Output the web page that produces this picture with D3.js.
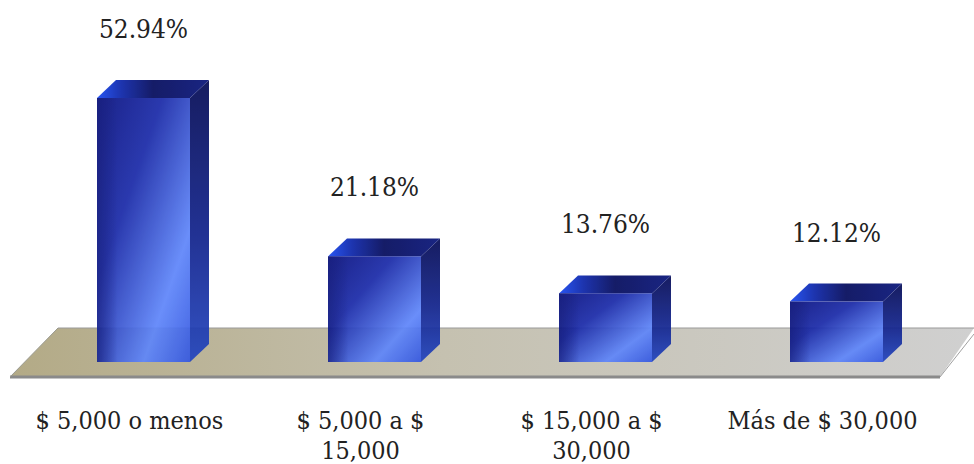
<!DOCTYPE html>
<html>
<head>
<meta charset="utf-8">
<script src="https://cdn.jsdelivr.net/npm/d3@7"></script>
<style>
  body { margin: 0; background: #fff; }
  svg text { font-family: "DejaVu Serif Condensed", "DejaVu Serif", serif; fill: #222; }
</style>
</head>
<body>
<div id="chart"></div>
<script>
const categories = ["$ 5,000 o menos", "$ 5,000 a $ 15,000", "$ 15,000 a $ 30,000", "Más de $ 30,000"];
const values = [52.94, 21.18, 13.76, 12.12];

const width = 974, height = 464;
const depthX = 19, depthY = -18;
const barW = 93;

const svg = d3.select("#chart").append("svg")
    .attr("width", width)
    .attr("height", height);

const defs = svg.append("defs");

// floor gradient, tan on the left to gray on the right
const floorGrad = defs.append("linearGradient").attr("id", "floorGrad")
    .attr("x1", "0%").attr("x2", "100%").attr("y1", "0%").attr("y2", "0%");
floorGrad.append("stop").attr("offset", "0%").attr("stop-color", "#b3aa86");
floorGrad.append("stop").attr("offset", "45%").attr("stop-color", "#c5c1b0");
floorGrad.append("stop").attr("offset", "100%").attr("stop-color", "#d0d0d0");

// front face
const frontGrad = defs.append("linearGradient").attr("id", "frontGrad")
    .attr("x1", "0%").attr("y1", "0%").attr("x2", "100%").attr("y2", "100%");
frontGrad.append("stop").attr("offset", "0%").attr("stop-color", "#0a1280");
frontGrad.append("stop").attr("offset", "35%").attr("stop-color", "#1a2aa8");
frontGrad.append("stop").attr("offset", "75%").attr("stop-color", "#5f86fa");
frontGrad.append("stop").attr("offset", "100%").attr("stop-color", "#3558e0");

const edgeGrad = defs.append("linearGradient").attr("id", "edgeGrad")
    .attr("x1", "0%").attr("x2", "100%").attr("y1", "0%").attr("y2", "0%");
edgeGrad.append("stop").attr("offset", "0%").attr("stop-color", "#060e70").attr("stop-opacity", 0.6);
edgeGrad.append("stop").attr("offset", "22%").attr("stop-color", "#060e70").attr("stop-opacity", 0);

// right side
const sideGrad = defs.append("linearGradient").attr("id", "sideGrad")
    .attr("x1", "0%").attr("y1", "0%").attr("x2", "0%").attr("y2", "100%");
sideGrad.append("stop").attr("offset", "0%").attr("stop-color", "#050c55");
sideGrad.append("stop").attr("offset", "55%").attr("stop-color", "#12238c");
sideGrad.append("stop").attr("offset", "100%").attr("stop-color", "#2446c0");

// top face
const topGrad = defs.append("linearGradient").attr("id", "topGrad")
    .attr("x1", "0%").attr("x2", "100%").attr("y1", "0%").attr("y2", "0%");
topGrad.append("stop").attr("offset", "0%").attr("stop-color", "#1848f0");
topGrad.append("stop").attr("offset", "22%").attr("stop-color", "#0c25a8");
topGrad.append("stop").attr("offset", "50%").attr("stop-color", "#040b5c");
topGrad.append("stop").attr("offset", "100%").attr("stop-color", "#08157a");

const x = d3.scalePoint()
    .domain(categories)
    .range([143.5, 836.5]);

const y = d3.scaleLinear()
    .domain([0, 60])
    .range([362, 362 - 299.2]);

// floor
const floorTop = 328, floorBottom = 377;
svg.append("path")
    .attr("d", "M58," + floorTop + " L974," + floorTop + " L940," + floorBottom + " L10," + floorBottom + " Z")
    .attr("fill", "url(#floorGrad)");
svg.append("line")
    .attr("x1", 58).attr("x2", 974).attr("y1", floorTop).attr("y2", floorTop)
    .attr("stroke", "#9a9a9a").attr("stroke-width", 1.2);
svg.append("line")
    .attr("x1", 10).attr("x2", 940).attr("y1", floorBottom).attr("y2", floorBottom)
    .attr("stroke", "#8a8a8a").attr("stroke-width", 3);
svg.append("line")
    .attr("x1", 58).attr("x2", 10).attr("y1", floorTop).attr("y2", floorBottom)
    .attr("stroke", "#9a9a90").attr("stroke-width", 1);
svg.append("line")
    .attr("x1", 974).attr("x2", 940).attr("y1", floorTop + 6).attr("y2", floorBottom)
    .attr("stroke", "#a0a0a0").attr("stroke-width", 1);

const data = categories.map(function(c, i){ return {cat: c, value: values[i]}; });

const bars = svg.selectAll(".bar")
    .data(data)
    .enter().append("g")
    .attr("class", "bar")
    .attr("opacity", 0.93);

function x0(d){ return x(d.cat) - barW / 2; }

bars.append("path")
    .attr("d", function(d){
        const l = x0(d), r = l + barW, t = y(d.value), b = y(0);
        return "M" + r + "," + t + " L" + (r + depthX) + "," + (t + depthY) +
            " L" + (r + depthX) + "," + (b + depthY) + " L" + r + "," + b + " Z";
    })
    .attr("fill", "url(#sideGrad)");

bars.append("path")
    .attr("d", function(d){
        const l = x0(d), r = l + barW, t = y(d.value);
        return "M" + l + "," + t + " L" + (l + depthX) + "," + (t + depthY) +
            " L" + (r + depthX) + "," + (t + depthY) + " L" + r + "," + t + " Z";
    })
    .attr("fill", "url(#topGrad)");

bars.append("rect")
    .attr("x", x0)
    .attr("y", function(d){ return y(d.value); })
    .attr("width", barW)
    .attr("height", function(d){ return y(0) - y(d.value); })
    .attr("fill", "url(#frontGrad)");

bars.append("rect")
    .attr("x", x0)
    .attr("y", function(d){ return y(d.value); })
    .attr("width", barW)
    .attr("height", function(d){ return y(0) - y(d.value); })
    .attr("fill", "url(#edgeGrad)");

// value labels
svg.selectAll(".val-label")
    .data(data)
    .enter().append("text")
    .attr("class", "val-label")
    .attr("x", function(d){ return x(d.cat); })
    .attr("y", function(d){ return y(d.value) + depthY - 42; })
    .attr("text-anchor", "middle")
    .attr("font-size", 26)
    .text(function(d){ return d.value.toFixed(2) + "%"; });

// category labels, wrapped
const maxW = 200;
svg.selectAll(".cat-label")
    .data(data)
    .enter().append("text")
    .attr("class", "cat-label")
    .attr("x", function(d){ return x(d.cat) - 14; })
    .attr("y", 429)
    .attr("text-anchor", "middle")
    .attr("font-size", 25)
    .each(function(d){
        const text = d3.select(this);
        const words = d.cat.split(" ");
        let line = [];
        let tspan = text.append("tspan").attr("x", x(d.cat) - 14).attr("dy", 0);
        words.forEach(function(w){
            line.push(w);
            tspan.text(line.join(" "));
            if (tspan.node().getComputedTextLength() > maxW && line.length > 1) {
                line.pop();
                tspan.text(line.join(" "));
                line = [w];
                tspan = text.append("tspan").attr("x", x(d.cat) - 14).attr("dy", 30).text(w);
            }
        });
    });
</script>
</body>
</html>
